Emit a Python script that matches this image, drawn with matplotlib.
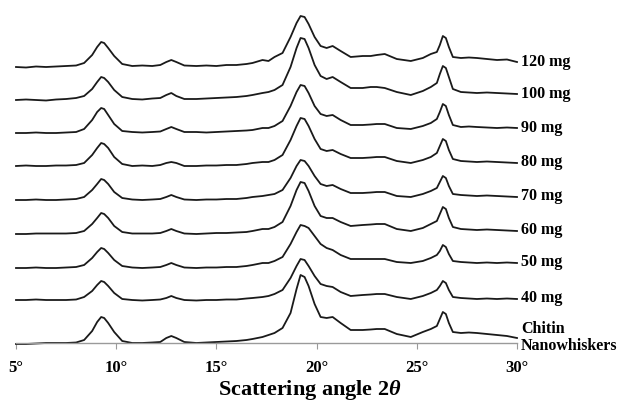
import numpy as np
import matplotlib.pyplot as plt

plt.rcParams['font.family'] = 'Liberation Serif'
plt.rcParams['font.weight'] = 'bold'
plt.rcParams['mathtext.fontset'] = 'custom'
plt.rcParams['mathtext.rm'] = 'Liberation Serif:bold'
plt.rcParams['mathtext.it'] = 'Liberation Serif:bold:italic'

# scattering angle grid (degrees)
two_theta = [5, 5.5, 6, 6.5, 7, 7.5, 8,
             8.4, 8.8, 9.05, 9.25, 9.4, 9.6, 9.9,
             10.3, 10.8, 11.3, 11.8, 12.2, 12.5, 12.75, 13.0, 13.4,
             14, 14.5, 15, 15.5, 16, 16.5, 16.8,
             17.3, 17.6, 17.9, 18.3, 18.7,
             19.0, 19.2, 19.4, 19.6, 19.9,
             20.2, 20.5, 20.8, 21.2, 21.7,
             22.3, 22.7, 23.0, 23.4, 24.0, 24.7,
             25.3, 25.7, 26.0, 26.15, 26.3, 26.45, 26.6, 26.8,
             27.2, 27.6, 28, 28.5, 29, 29.5, 30]

# intensities (a.u., relative to each pattern's own baseline)
chitin = [0, 0, 0.5, 1, 1, 1, 1.5,
          4, 13, 22, 27, 26, 21, 12,
          3, 1, 1, 1.5, 2, 6, 8, 6, 2,
          1, 1.5, 2, 2.5, 3, 4, 5,
          7, 9, 11, 16, 31,
          55, 69, 67, 58, 40,
          27, 26, 27, 21, 14,
          14, 14.5, 15, 15, 10, 7,
          12, 15, 18, 25, 32, 30, 21, 12,
          11, 11.5, 11, 10, 9, 8, 6]
mg40 = [0, 0, 0.5, 0, 0, 0, 0.5,
        3, 9, 15, 19, 18, 14, 7,
        1, 0, -0.5, 0, 0.5, 2, 4, 2, 0,
        -0.5, 0, 0, 0.5, 0.5, 1.5, 2,
        3, 4, 6, 10, 22,
        34, 41, 40, 34, 24,
        16, 14, 13, 8, 4,
        5, 5.5, 6, 6, 3, 1,
        4, 7, 10, 14, 19, 17, 10, 3,
        2, 1.5, 1, 1.5, 1, 1.5, 1]
mg50 = [0, 0, 0.5, 0, 0, 0.5, 1,
        3, 10, 16, 20, 19, 15, 8,
        2, 0.5, 0, 0.5, 1, 3, 5, 3, 0.5,
        0, 0.5, 0.5, 1, 1, 2, 3,
        5, 5, 7, 11, 24,
        36, 43, 42, 40, 32,
        24, 20, 18, 13, 9,
        9, 9, 9, 9, 6, 5,
        7, 10, 13, 17, 23, 21, 14, 7,
        6, 5.5, 5, 5.5, 5, 5.5, 5]
mg60 = [0, 0, 0.5, 0.5, 0.5, 0.5, 1,
        3, 10, 16, 21, 20, 16, 8,
        2, 0.5, 0.5, 0.5, 1, 3, 5, 3, 0.5,
        0, 0.5, 1, 1, 1.5, 2, 3,
        5, 5, 7, 12, 28,
        44, 52, 51, 43, 28,
        18, 16, 16, 12, 8,
        9, 9.5, 10, 10, 5, 3,
        6, 10, 13, 20, 27, 25, 16, 7,
        5, 4.5, 4, 4.5, 4, 3.5, 3]
mg70 = [0, 0, 0.5, 0, 0, 0.5, 1,
        3, 10, 16, 21, 20, 16, 8,
        2, 0.5, 0, 0.5, 1, 3, 5, 3, 0.5,
        0, 0.5, 0.5, 1, 1, 2, 3,
        4, 5, 6, 10, 22,
        34, 40, 39, 34, 24,
        16, 14, 15, 11, 7,
        7, 7.5, 8, 8, 4, 3,
        6, 9, 12, 18, 24, 22, 14, 6,
        5, 4.5, 4, 4.5, 4, 3.5, 3]
mg80 = [0, 0.5, 0, 0, 0.5, 0.5, 1,
        3, 11, 18, 23, 22, 18, 9,
        2, 0, 0.5, 0, 1, 3, 4, 3, 0,
        0, 0.5, 0.5, 1, 1, 2, 3,
        4, 4, 6, 11, 26,
        40, 48, 47, 40, 27,
        17, 15, 16, 12, 8,
        8, 8.5, 9, 9, 5, 3,
        6, 9, 13, 20, 27, 25, 16, 7,
        5, 4.5, 4, 4.5, 4, 3.5, 3]
mg90 = [0, 0, 0.5, 0, 0, 0.5, 1,
        4, 13, 21, 25, 24, 18, 9,
        2, 1, 0.5, 1, 1.5, 4, 6, 4, 1,
        1, 0.5, 1, 1.5, 2, 2.5, 3,
        5, 5, 7, 12, 27,
        41, 48, 47, 40, 27,
        19, 17, 18, 13, 8,
        8, 8.5, 9, 9, 5, 4,
        7, 10, 14, 21, 29, 27, 18, 8,
        6, 6.5, 6, 5.5, 5, 5.5, 5]
mg100 = [0, 0.5, 0, -0.5, 0.5, 1, 2,
         4, 11, 18, 23, 22, 18, 10,
         3, 1, 0.5, 1.5, 2, 5, 7, 4, 1,
         1, 1.5, 2, 2.5, 3, 4, 5,
         7, 8, 10, 15, 33,
         52, 62, 61, 52, 35,
         24, 21, 23, 18, 12,
         12, 13, 13, 12, 8, 5,
         9, 13, 17, 26, 34, 32, 23, 11,
         8, 7.5, 7, 7.5, 7, 6.5, 6]
mg120 = [0, -0.5, 0.5, 0, 0.5, 1, 1.5,
         4, 12, 20, 25, 24, 19, 11,
         3, 1, 1.5, 1, 2, 5, 7, 5, 1.5,
         1, 1.5, 1, 2, 2, 3, 4,
         7, 6, 10, 14, 30,
         44, 51, 50, 43, 30,
         21, 19, 21, 16, 10,
         11, 11, 12, 13, 8, 6,
         9, 13, 15, 22, 31, 29, 20, 10,
         9, 9.5, 9, 8, 7, 7.5, 5]

patterns = [chitin, mg40, mg50, mg60, mg70, mg80, mg90, mg100, mg120]
labels = ['Chitin\nNanowhiskers', '40 mg', '50 mg', '60 mg', '70 mg', '80 mg', '90 mg',
          '100 mg', '120 mg']
offsets = [-1, 43, 75, 109, 143, 177, 210, 243, 276]

fig = plt.figure(figsize=(6.19, 4.03), dpi=100)
ax = fig.add_axes([16 / 619, 60 / 403, 501 / 619, 333 / 403])

x = np.array(two_theta)
for y, lab, off in zip(patterns, labels, offsets):
    yy = np.array(y) + off
    ax.plot(x, yy, color='#1a1a1a', lw=1.3, clip_on=False)
    ax.text(30.2, yy[-1] + 0.5, lab, ha='left', va='center', fontsize=11.5,
            fontweight='bold', linespacing=1.1)

ax.set_xlim(5, 30)
ax.set_ylim(0, 333)
ax.set_xticks(range(5, 31, 5))
ax.set_xticklabels([f'{t}\u00b0' for t in range(5, 31, 5)], fontsize=12, fontweight='bold')
ax.tick_params(axis='x', direction='out', length=4, color='#9a9a9a', pad=8)
ax.set_yticks([])
for s in ['top', 'right', 'left']:
    ax.spines[s].set_visible(False)
ax.spines['bottom'].set_color('#9a9a9a')
ax.spines['bottom'].set_linewidth(1.0)

fig.text(310 / 619, 1 - 390 / 403, r'Scattering angle $\mathit{2\theta}$', ha='center',
         va='center', fontsize=16, fontweight='bold')

fig.savefig('out.png', dpi=100)
